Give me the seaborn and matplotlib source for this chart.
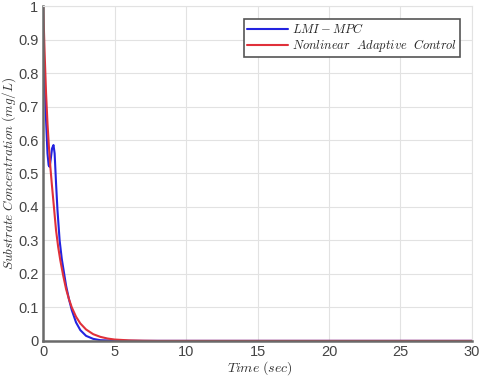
import numpy as np
import pandas as pd
import matplotlib
matplotlib.use("Agg")
import matplotlib.pyplot as plt
import seaborn as sns

# LMI - MPC response
t_mpc = [0, 0.1, 0.2, 0.3, 0.38, 0.45, 0.52, 0.62, 0.72, 0.8, 0.9, 1.0, 1.15,
         1.3, 1.45, 1.6, 1.8, 2.0, 2.3, 2.6, 3.0, 3.5, 4.0, 5.0, 7.0, 30.0]
s_mpc = [0.90, 0.78, 0.66, 0.56, 0.525, 0.52, 0.54, 0.575, 0.585, 0.56, 0.47,
         0.39, 0.30, 0.245, 0.205, 0.165, 0.125, 0.092, 0.055, 0.032, 0.015,
         0.006, 0.002, 0.0005, 0.0, 0.0]

# Nonlinear adaptive control response
t_nac = [0, 0.1, 0.2, 0.3, 0.4, 0.5, 0.6, 0.75, 0.9, 1.05, 1.2, 1.4, 1.6, 1.8,
         2.0, 2.3, 2.6, 3.0, 3.5, 4.0, 4.5, 5.0, 6.0, 7.0, 8.0, 30.0]
s_nac = [1.0, 0.86, 0.74, 0.65, 0.58, 0.52, 0.47, 0.40, 0.33, 0.28, 0.24,
         0.195, 0.155, 0.125, 0.10, 0.072, 0.052, 0.034, 0.02, 0.012, 0.007,
         0.004, 0.0015, 0.0005, 0.0, 0.0]

labels = [r"$LMI-MPC$", r"$Nonlinear\ \ Adaptive\ \ Control$"]

df = pd.concat([
    pd.DataFrame({"t": t_mpc, "s": s_mpc, "method": labels[0]}),
    pd.DataFrame({"t": t_nac, "s": s_nac, "method": labels[1]}),
], ignore_index=True)

sns.set_style("white")
plt.rcParams["mathtext.fontset"] = "cm"
plt.rcParams["font.family"] = ["Liberation Sans", "DejaVu Sans"]

fig = plt.figure(figsize=(4.8, 3.83), dpi=100)
ax = fig.add_axes([0.09, 0.11, 0.893, 0.874])

sns.lineplot(data=df, x="t", y="s", hue="method", sort=False,
             palette=["#2323e0", "#e0303a"], linewidth=1.5, ax=ax)

ax.set_xlim(0, 30)
ax.set_ylim(0, 1)
ax.set_xticks(np.arange(0, 31, 5))
ax.set_yticks(np.arange(0, 1.01, 0.1))
ax.set_yticklabels(["0", "0.1", "0.2", "0.3", "0.4", "0.5", "0.6", "0.7",
                    "0.8", "0.9", "1"])
ax.grid(True, color="#e2e2e2", linewidth=0.8)
ax.tick_params(direction="in", length=4, width=1, colors="#555555",
               labelsize=10.5, labelcolor="#444444")
ax.tick_params(axis="x", pad=3)

for side in ["left", "bottom"]:
    ax.spines[side].set_color("#6a6a6a")
    ax.spines[side].set_linewidth(1.8)
for side in ["top", "right"]:
    ax.spines[side].set_color("#e2e2e2")
    ax.spines[side].set_linewidth(0.8)

ax.set_xlabel(r"$Time\ (sec)$", fontsize=10, color="#333333")
ax.set_ylabel(r"$Substrate\ Concentration\ (mg/L)$", fontsize=9.5,
              color="#333333")
ax.xaxis.set_label_coords(0.506, -0.056)
ax.yaxis.set_label_coords(-0.058, 0.5)

leg = ax.legend(loc="upper right", bbox_to_anchor=(0.972, 0.962), fontsize=9,
                fancybox=False, framealpha=1, edgecolor="#555555",
                borderaxespad=0, handlelength=3.3, handletextpad=0.25,
                borderpad=0.25, labelspacing=0.1)
leg.get_frame().set_linewidth(1.2)
leg.set_title(None)

fig.savefig("out.png", dpi=100)
